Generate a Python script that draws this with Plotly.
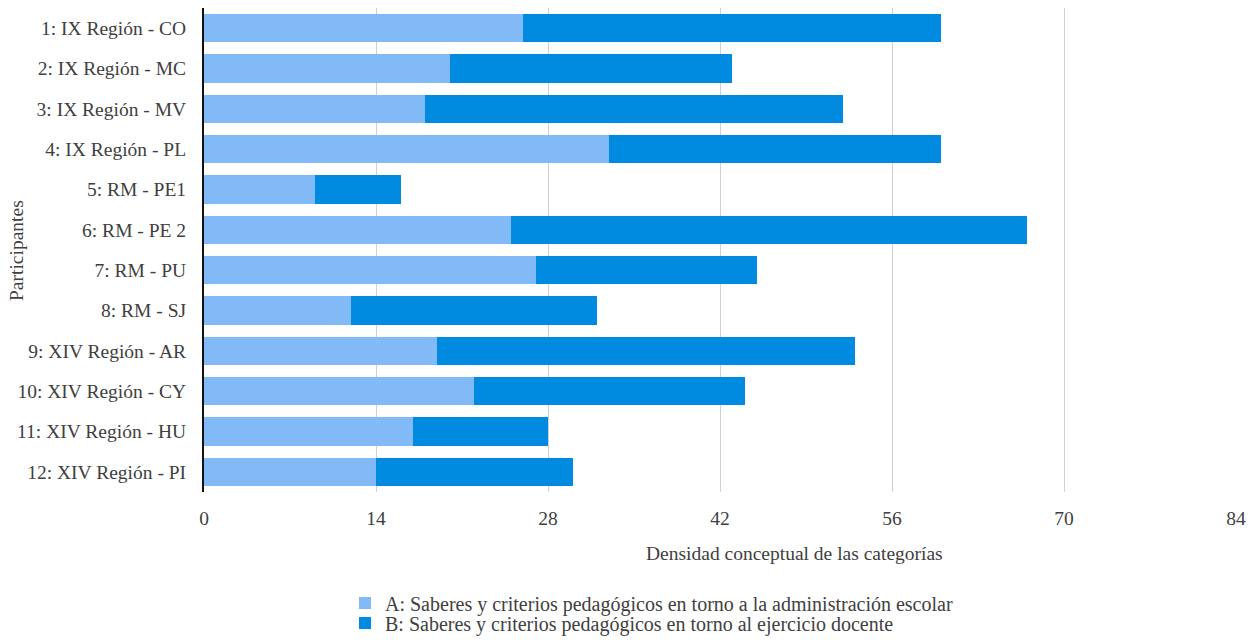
import plotly.graph_objects as go

participants = [
    "1: IX Región - CO", "2: IX Región - MC", "3: IX Región - MV", "4: IX Región - PL",
    "5: RM - PE1", "6: RM - PE 2", "7: RM - PU", "8: RM - SJ",
    "9: XIV Región - AR", "10: XIV Región - CY", "11: XIV Región - HU", "12: XIV Región - PI",
]
series_a = [26, 20, 18, 33, 9, 25, 27, 12, 19, 22, 17, 14]
series_b = [34, 23, 34, 27, 7, 42, 18, 20, 34, 22, 11, 16]
name_a = "A: Saberes y criterios pedagógicos en torno a la administración escolar"
name_b = "B: Saberes y criterios pedagógicos en torno al ejercicio docente"
x_ticks = [0, 14, 28, 42, 56, 70, 84]

FONT = "Liberation Serif"
TXT = "#404040"

fig = go.Figure()
fig.add_trace(go.Bar(y=participants, x=series_a, orientation="h", name=name_a,
                     marker=dict(color="#82BAF8", line=dict(width=0)), legend="legend"))
fig.add_trace(go.Bar(y=participants, x=series_b, orientation="h", name=name_b,
                     marker=dict(color="#008BE0", line=dict(width=0)), legend="legend2"))

W, H = 1256, 640
L, R, T, B = 204, 20, 8, 148
pw, ph = W - L - R, H - T - B

def px_x(x):
    return (x - L) / pw

def px_y(y):
    return (H - B - y) / ph

fig.update_layout(
    width=W, height=H,
    margin=dict(l=L, r=R, t=T, b=B, autoexpand=False),
    barmode="stack", bargap=0.29,
    plot_bgcolor="white", paper_bgcolor="white",
    font=dict(family=FONT, size=19.5, color=TXT),
    showlegend=True,
    legend=dict(xref="container", yref="container", x=345 / W, y=1 - 603 / H,
                xanchor="left", yanchor="middle",
                font=dict(family=FONT, size=20, color=TXT), bgcolor="rgba(0,0,0,0)"),
    legend2=dict(xref="container", yref="container", x=345 / W, y=1 - 623 / H,
                 xanchor="left", yanchor="middle",
                 font=dict(family=FONT, size=20, color=TXT), bgcolor="rgba(0,0,0,0)"),
    xaxis=dict(range=[0, 84], tickvals=x_ticks, showgrid=True, gridcolor="#D0D0D0",
               gridwidth=1, zeroline=False, showline=False, ticks="",
               ticklabelstandoff=12, tickfont=dict(family=FONT, size=19.5, color=TXT)),
    yaxis=dict(categoryorder="array", categoryarray=participants, autorange="reversed",
               showline=True, linecolor="#111111", linewidth=2, ticks="",
               showgrid=False, ticklabelstandoff=12,
               tickfont=dict(family=FONT, size=19.5, color=TXT)),
    annotations=[
        dict(text="Densidad conceptual de las categorías", xref="paper", yref="paper",
             x=px_x(794), y=px_y(553), xanchor="center", yanchor="middle",
             showarrow=False, font=dict(family=FONT, size=19.5, color=TXT)),
        dict(text="Participantes", xref="paper", yref="paper",
             x=px_x(17), y=px_y(251), xanchor="center", yanchor="middle",
             textangle=-90, showarrow=False, font=dict(family=FONT, size=19.5, color=TXT)),
    ],
)

fig.write_html("out.html")
